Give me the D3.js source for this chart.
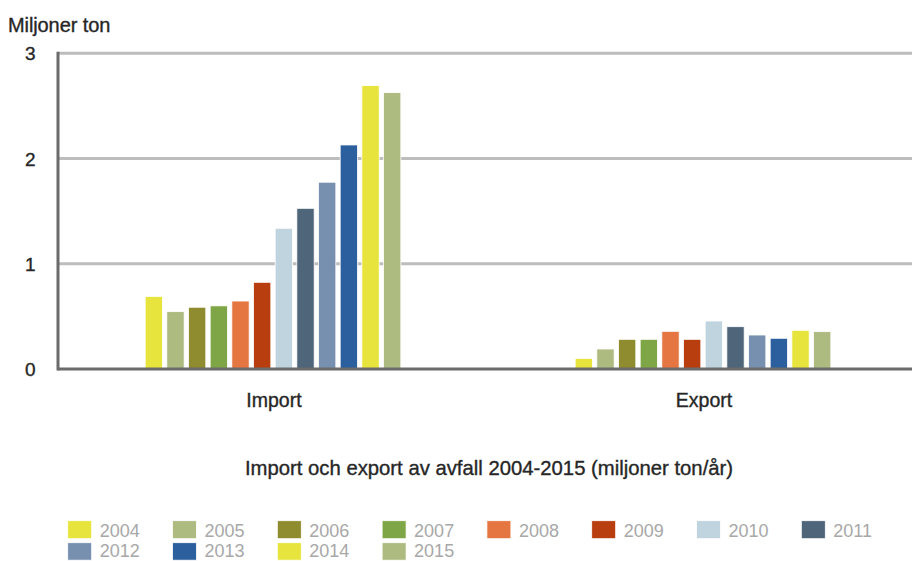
<!DOCTYPE html>
<html><head><meta charset="utf-8">
<script src="https://cdn.jsdelivr.net/npm/d3@7"></script>
<style>body{margin:0;background:#fff}svg{display:block;font-family:"Liberation Sans",Arial,Helvetica,sans-serif}</style>
</head><body><svg id="c" width="912" height="561"></svg>
<script>
const categories = ["Import", "Export"];
const years = ["2004","2005","2006","2007","2008","2009","2010","2011","2012","2013","2014","2015"];
const importValues = [0.69, 0.545, 0.587, 0.6, 0.646, 0.824, 1.337, 1.527, 1.775, 2.129, 2.693, 2.626];
const exportValues = [0.101, 0.19, 0.282, 0.282, 0.358, 0.282, 0.456, 0.402, 0.323, 0.292, 0.368, 0.355];
const colors = ["#e8e43e","#adbb80","#8f8b2f","#7fa646","#e57642","#b83e10","#bfd4df","#4f657a","#7890b0","#2b5f9e","#e8e43e","#adbb80"];
const yTicks = [0, 1, 2, 3];
const yTitle = "Miljoner ton";
const chartTitle = "Import och export av avfall 2004-2015 (miljoner ton/år)";

(function () {
const svg = d3.select("#c");
const mLeft = 58, mRight = 912, mTop = 53.3, mBottom = 369;
const y = d3.scaleLinear().domain([0, 3]).range([mBottom, mTop]);
const x0 = d3.scaleBand().domain(categories).range([mLeft, 918]);
const x1 = d3.scaleBand().domain(years).range([0, 21.67*12]).paddingInner(0.2).paddingOuter(0.1);
const dark = "#262626";

// gridlines
svg.append("g").selectAll("line").data(yTicks.filter(d => d > 0)).join("line")
  .attr("x1", mLeft).attr("x2", mRight).attr("y1", d => y(d)).attr("y2", d => y(d))
  .attr("stroke", "#bdbdbd").attr("stroke-width", 3);

const series = [importValues, exportValues];
categories.forEach((cat, ci) => {
  const cx = x0(cat) + x0.bandwidth() / 2;
  const g = svg.append("g").attr("transform", `translate(${cx - x1.range()[1] / 2},0)`);
  g.selectAll("rect").data(series[ci]).join("rect")
    .attr("x", (d, i) => x1(years[i]))
    .attr("width", x1.bandwidth())
    .attr("y", d => y(d))
    .attr("height", d => y(0) - y(d))
    .attr("fill", (d, i) => colors[i])
    .attr("stroke", "#fff").attr("stroke-width", 0.8);
});

// axes lines
svg.append("line").attr("x1", mLeft).attr("x2", mRight).attr("y1", mBottom).attr("y2", mBottom)
  .attr("stroke", "#6b6b6b").attr("stroke-width", 3);
svg.append("line").attr("x1", mLeft).attr("x2", mLeft).attr("y1", mTop - 1.5).attr("y2", mBottom + 1.5)
  .attr("stroke", "#6b6b6b").attr("stroke-width", 3);

function heavy(sel) { return sel.attr("fill", dark).attr("stroke", dark).attr("stroke-width", 0.35); }

// y tick labels
heavy(svg.append("g").selectAll("text").data(yTicks).join("text")
  .attr("x", 35.5).attr("y", d => y(d) + 7).attr("text-anchor", "end")
  .attr("font-size", 19).text(d => d));

heavy(svg.append("text").attr("x", 8).attr("y", 32).attr("font-size", 20)
  .attr("letter-spacing", -0.1).text(yTitle));

// category labels
heavy(svg.append("g").selectAll("text").data(categories).join("text")
  .attr("x", d => x0(d) + x0.bandwidth() / 2 + 1).attr("y", 407)
  .attr("text-anchor", "middle").attr("font-size", 19.5).text(d => d));

heavy(svg.append("text").attr("x", 489).attr("y", 475).attr("text-anchor", "middle")
  .attr("font-size", 20.3).text(chartTitle));

// legend
const lg = svg.append("g");
years.forEach((yr, i) => {
  const col = i % 8, row = Math.floor(i / 8);
  const lx = 67.7 + col * 104.8, ly = 520.7 + row * 22;
  lg.append("rect").attr("x", lx).attr("y", ly).attr("width", 24).attr("height", row ? 17.5 : 18)
    .attr("fill", colors[i]).attr("stroke", "#fff").attr("stroke-width", 0.8);
  lg.append("text").attr("x", lx + 32).attr("y", row ? 556.8 : 536.7).attr("font-size", 18)
    .attr("fill", "#a8a8a8").text(yr);
});
})();
</script></body></html>
